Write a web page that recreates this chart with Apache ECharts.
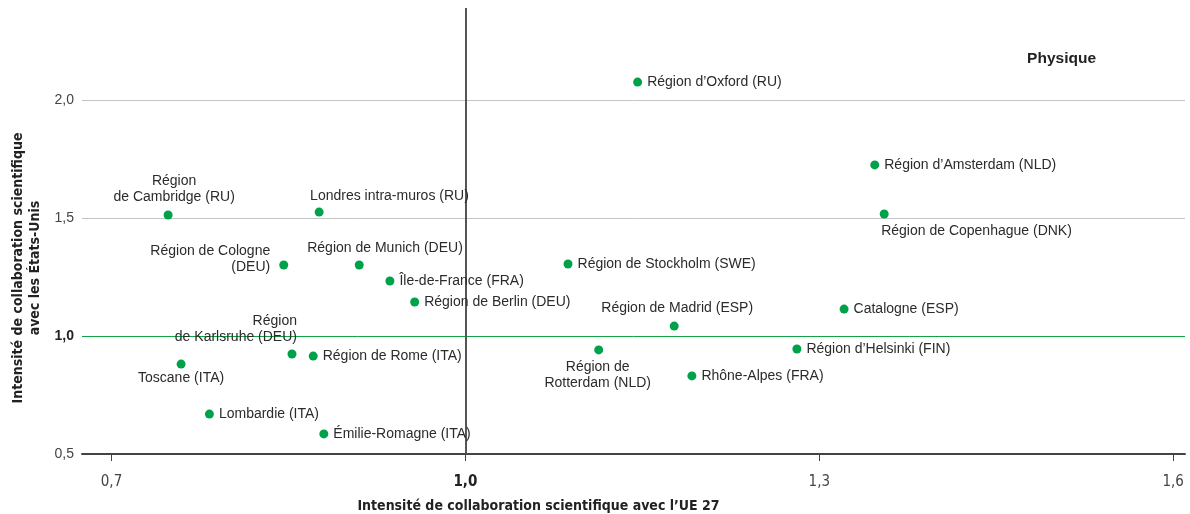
<!DOCTYPE html>
<html>
<head>
<meta charset="utf-8">
<script src="https://cdn.jsdelivr.net/npm/echarts@6/dist/echarts.min.js"></script>
<style>
  html, body { margin: 0; padding: 0; background: #fff; }
  #chart { width: 1190px; height: 514px; }
</style>
</head>
<body>
<div id="chart"></div>
<script>
// données
const regions = [
  "Région d’Oxford (RU)", "Région d’Amsterdam (NLD)", "Région de Copenhague (DNK)",
  "Région\nde Cambridge (RU)", "Londres intra-muros (RU)", "Région de Cologne\n(DEU)",
  "Région de Munich (DEU)", "Île-de-France (FRA)", "Région de Berlin (DEU)",
  "Région de Stockholm (SWE)", "Région de Madrid (ESP)", "Catalogne (ESP)",
  "Région d’Helsinki (FIN)", "Région de\nRotterdam (NLD)", "Rhône-Alpes (FRA)",
  "Région\nde Karlsruhe (DEU)", "Région de Rome (ITA)", "Toscane (ITA)",
  "Lombardie (ITA)", "Émilie-Romagne (ITA)"
];
const ue27 = [1.146, 1.347, 1.355, 0.748, 0.876, 0.846, 0.910, 0.936, 0.957, 1.087,
  1.177, 1.321, 1.281, 1.113, 1.192, 0.853, 0.871, 0.759, 0.783, 0.880];
const etatsUnis = [2.076, 1.725, 1.517, 1.513, 1.525, 1.301, 1.301, 1.233, 1.144, 1.305,
  1.042, 1.114, 0.945, 0.941, 0.831, 0.924, 0.915, 0.881, 0.669, 0.585];
const xTicks = [0.7, 1.0, 1.3, 1.6];
const yTicks = [0.5, 1.0, 1.5, 2.0];

// placement des étiquettes (style)
const placement = {
  "Région de Copenhague (DNK)": { position: "bottom", align: "left", offset: [-3, 0] },
  "Région\nde Cambridge (RU)": { position: "top", align: "center", offset: [6, 0] },
  "Londres intra-muros (RU)": { position: "top", align: "left", offset: [-9, 2] },
  "Région de Cologne\n(DEU)": { position: "left", align: "right", offset: [-4, -6] },
  "Région de Munich (DEU)": { position: "top", align: "left", offset: [-52, 1] },
  "Région de Madrid (ESP)": { position: "top", align: "center", offset: [3, 0] },
  "Région de\nRotterdam (NLD)": { position: "bottom", align: "center", offset: [-1, 0] },
  "Région\nde Karlsruhe (DEU)": { position: "top", align: "right", offset: [5, 1] },
  "Toscane (ITA)": { position: "bottom", align: "center", offset: [0, -3] }
};

const points = regions.map((name, i) => {
  const p = placement[name] || { position: "right", align: "left", offset: [0, 0] };
  return {
    name: name,
    value: [ue27[i], etatsUnis[i]],
    label: { position: p.position, align: p.align, offset: p.offset }
  };
});

const myChart = echarts.init(document.getElementById("chart"));
const textFont = "'Liberation Sans', Arial, sans-serif";
const narrowFont = "'Liberation Sans Narrow', 'DejaVu Sans Condensed', sans-serif";

// lignes de référence
function refLine(id, coord, color, width) {
  return {
    type: "scatter",
    id: id,
    data: [],
    silent: true,
    markLine: {
      silent: true,
      symbol: "none",
      label: { show: false },
      lineStyle: { color: color, width: width, type: "solid", opacity: 1 },
      data: [coord]
    }
  };
}

const option = {
  animation: false,
  title: {
    text: "Physique",
    right: 89,
    top: 46,
    textStyle: { fontFamily: textFont, fontSize: 15.5, fontWeight: "bold", color: "#222" }
  },
  grid: { left: 82, right: 5, top: 8, bottom: 60, outerBoundsMode: "none", containLabel: false },
  xAxis: {
    type: "value",
    min: 0.675,
    max: 1.61,
    name: "Intensité de collaboration scientifique avec l’UE 27",
    nameLocation: "middle",
    nameGap: 45,
    nameTextStyle: {
      fontFamily: narrowFont, fontSize: 14, fontWeight: "bold", color: "#222",
      padding: [0, 190, 0, 0]
    },
    axisLine: { onZero: false, lineStyle: { color: "#444", width: 2 } },
    axisTick: { show: true, customValues: xTicks, length: 7, lineStyle: { color: "#444", width: 1 } },
    axisLabel: {
      customValues: xTicks,
      margin: 21,
      fontFamily: narrowFont,
      fontSize: 15,
      color: "#444",
      formatter: v => Math.abs(v - 1) < 1e-9 ? "{b|1,0}" : v.toFixed(1).replace(".", ","),
      rich: { b: { fontFamily: narrowFont, fontSize: 15, fontWeight: "bold", color: "#222" } }
    },
    splitLine: { show: false }
  },
  yAxis: {
    type: "value",
    min: 0.5,
    max: 2.39,
    name: "Intensité de collaboration scientifique\navec les États-Unis",
    nameLocation: "middle",
    nameRotate: 90,
    nameGap: 32,
    nameTextStyle: {
      fontFamily: narrowFont, fontSize: 14, fontWeight: "bold", color: "#222",
      lineHeight: 17, padding: [0, 74, 0, 0]
    },
    axisLine: { show: false },
    axisTick: { show: false, customValues: yTicks },
    axisLabel: {
      customValues: yTicks,
      margin: 8,
      fontFamily: textFont,
      fontSize: 14,
      color: "#444",
      formatter: v => Math.abs(v - 1) < 1e-9 ? "{b|1,0}" : v.toFixed(1).replace(".", ","),
      rich: { b: { fontFamily: textFont, fontSize: 14, fontWeight: "bold", color: "#222" } }
    },
    splitLine: { show: false }
  },
  series: [
    refLine("g20", { yAxis: 2.0 }, "#c4c4c4", 1),
    refLine("g15", { yAxis: 1.5 }, "#c4c4c4", 1),
    refLine("g10", { yAxis: 1.0 }, "#12a344", 1),
    refLine("v10", { xAxis: 1.0 }, "#555555", 2),
    {
      type: "scatter",
      symbolSize: 9,
      z: 5,
      itemStyle: { color: "#00a14b", opacity: 1 },
      label: {
        show: true,
        formatter: "{b}",
        distance: 5,
        fontFamily: textFont,
        fontSize: 14,
        lineHeight: 16,
        color: "#2b2b2b"
      },
      emphasis: { disabled: true },
      data: points
    }
  ]
};

myChart.setOption(option);
window.addEventListener("resize", () => {
  myChart.resize();
});
</script>
</body>
</html>
